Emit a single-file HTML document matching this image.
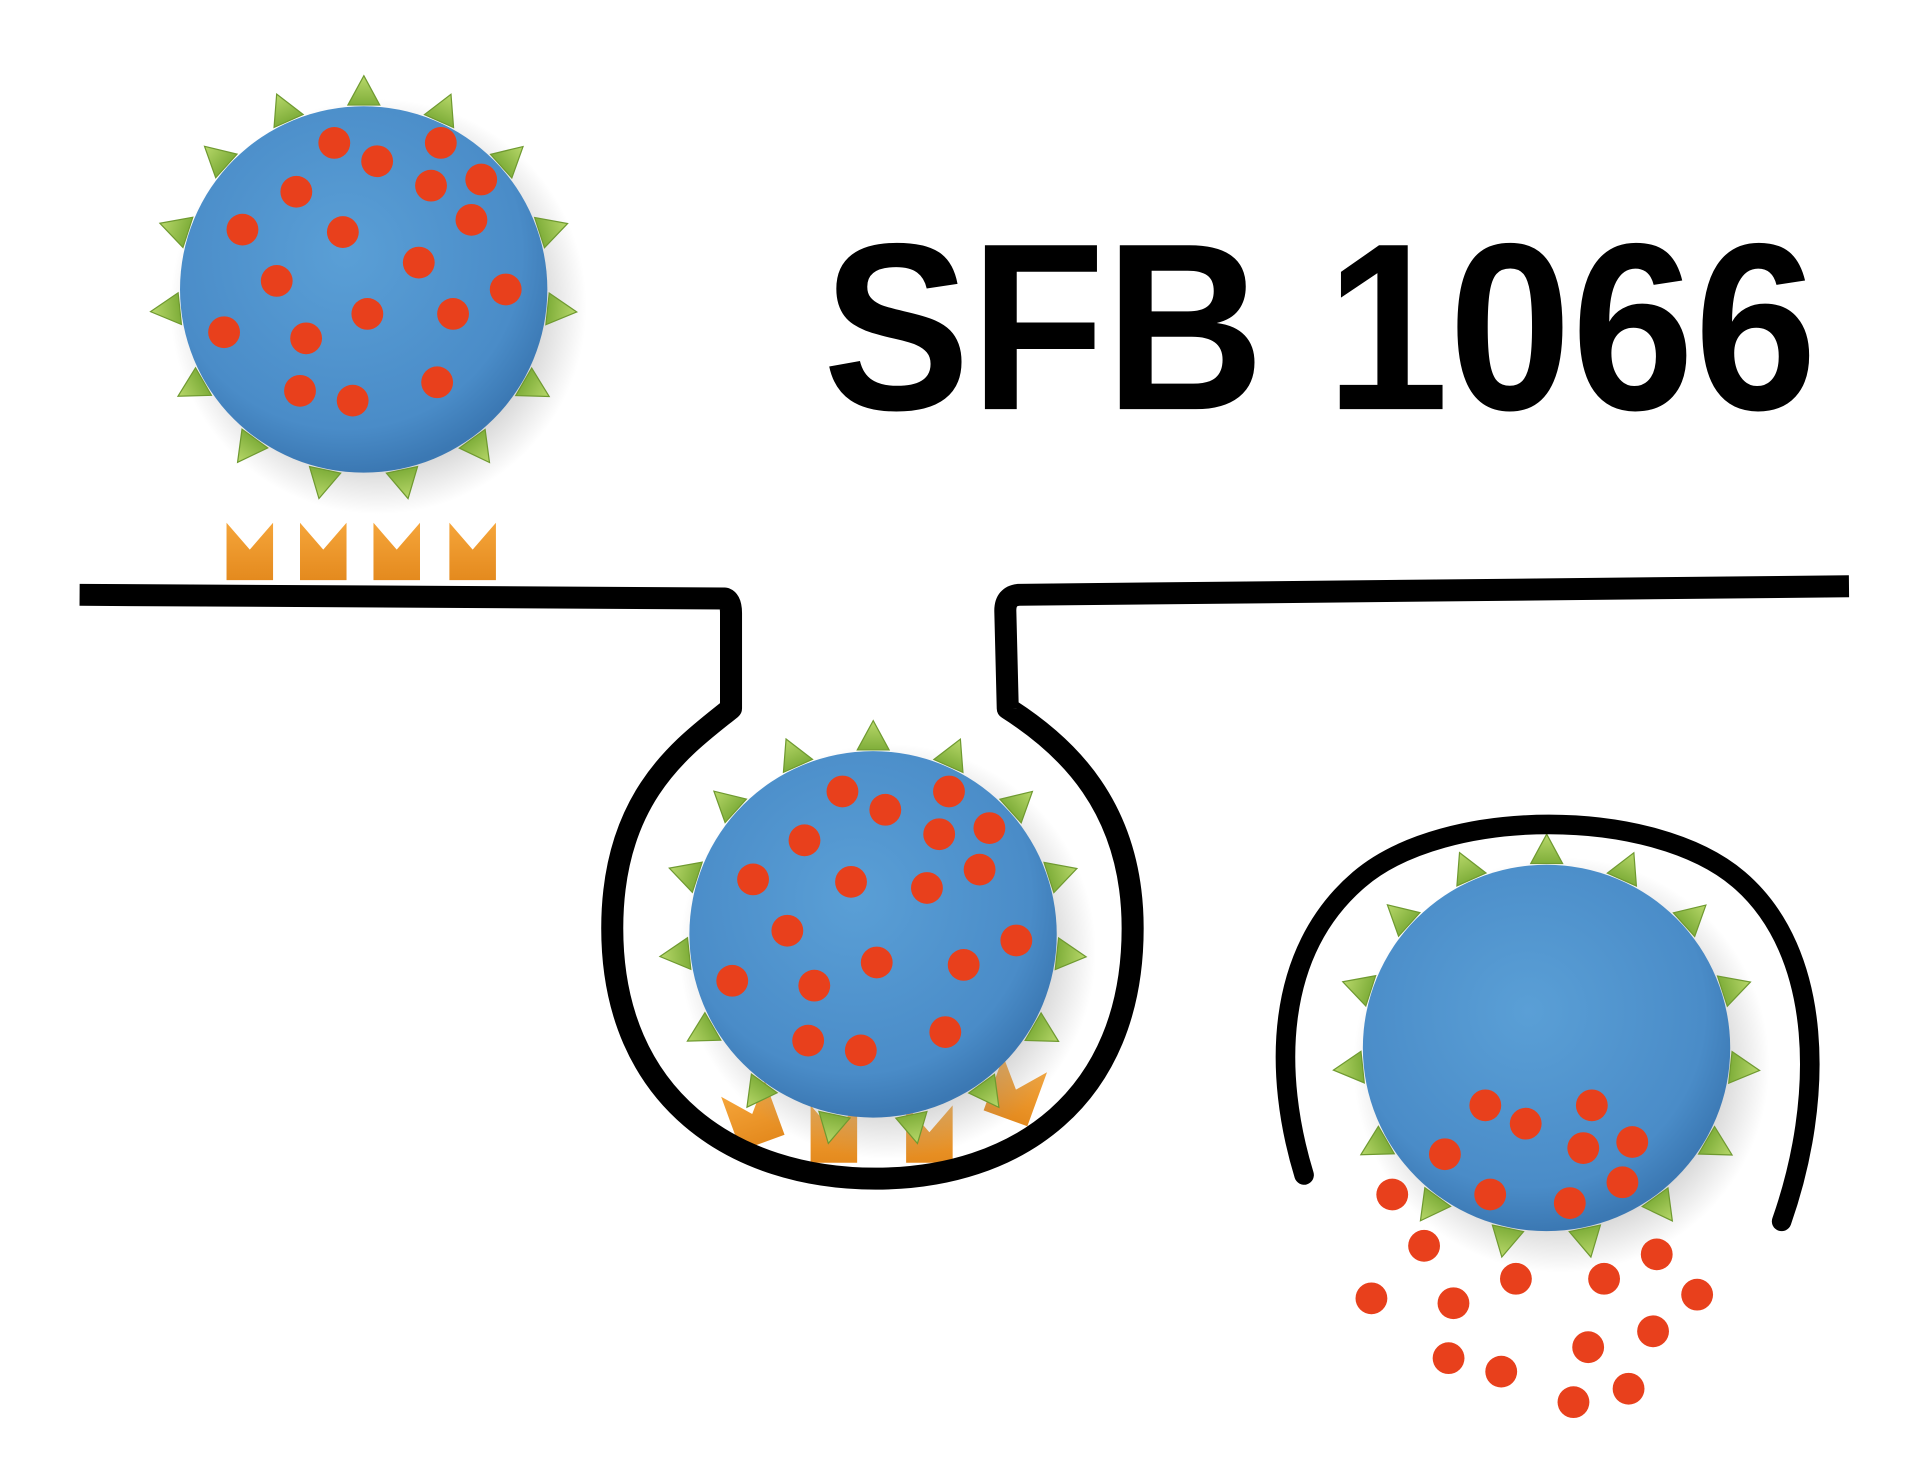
<!DOCTYPE html>
<html><head><meta charset="utf-8"><style>
html,body{margin:0;padding:0;background:#fff;}
svg{display:block;}
</style></head><body>
<svg id="s" width="1920" height="1462" viewBox="0 0 1568 1197" preserveAspectRatio="none" xmlns="http://www.w3.org/2000/svg">
<defs>
<radialGradient id="bg" cx="0.45" cy="0.4" r="0.6">
<stop offset="0" stop-color="#5a9fd6"/><stop offset="0.8" stop-color="#4a8cc8"/><stop offset="1" stop-color="#3b78b3"/>
</radialGradient>
<radialGradient id="sh" cx="0.5" cy="0.5" r="0.5">
<stop offset="0.7" stop-color="#999" stop-opacity="0.5"/><stop offset="1" stop-color="#999" stop-opacity="0"/>
</radialGradient>
<linearGradient id="gr" x1="0" y1="0" x2="0" y2="1"><stop offset="0" stop-color="#b8d86a"/><stop offset="1" stop-color="#7fae3a"/></linearGradient>
<linearGradient id="or" x1="0" y1="0" x2="0" y2="1"><stop offset="0" stop-color="#f5a53a"/><stop offset="1" stop-color="#e48a1e"/></linearGradient>
</defs>
<rect width="1568" height="1197" fill="#fff"/>
<g id="balls"></g>
<path d="M65,487 L592,490 Q597,492 597,502 L597,580 C560,610 500,650 500,760 C500,900 600,965 715,965 C830,965 925,900 925,760 C925,660 870,610 823,580 L821,500 Q821,488 832,487 L1510,480" fill="none" stroke="#000" stroke-width="18" stroke-linejoin="round"/>
<path d="M1065,962 C1040,880 1040,780 1110,720 C1180,660 1350,660 1420,720 C1490,780 1490,900 1455,1000" fill="none" stroke="#000" stroke-width="16" stroke-linecap="round"/>
<text x="672" y="335" font-family="Liberation Sans, sans-serif" font-weight="bold" font-size="195" textLength="812" lengthAdjust="spacingAndGlyphs" fill="#000">SFB 1066</text>
</svg>
<script>
var NS="http://www.w3.org/2000/svg",g=document.getElementById('balls');
function el(t,a){var e=document.createElementNS(NS,t);for(var k in a)e.setAttribute(k,a[k]);g.appendChild(e);return e;}
function M(x,y,rot){el('polygon',{points:"0,0 19,22 38,0 38,47 0,47",fill:"url(#or)",transform:"translate("+x+","+y+") rotate("+(rot||0)+",19,24)"});}
[185,245,305,367].forEach(function(x){M(x,428);});
M(596,890,-20);M(662,905,0);M(740,905,0);M(810,870,20);
function ball(cx,cy,r,n,off,dots){
 el('ellipse',{cx:cx+12,cy:cy+14,rx:r+20,ry:r+20,fill:"url(#sh)"});
 for(var i=0;i<n;i++){var a=off+i*2*Math.PI/n,R=r+10,x=cx+R*Math.cos(a),y=cy+R*Math.sin(a),d=a*180/Math.PI+90;
  el('polygon',{points:"0,-15 13,9 -13,9",fill:"url(#gr)",stroke:"#6f9a30","stroke-width":"1",transform:"translate("+x+","+y+") rotate("+d+")"});}
 el('circle',{cx:cx,cy:cy,r:r,fill:"url(#bg)"});
 dots.forEach(function(p){el('circle',{cx:p[0],cy:p[1],r:13,fill:"#e8401c"});});
}
ball(297,237,150,15,-1.57,[[273,117],[308,132],[360,117],[393,147],[352,152],[242,157],[385,180],[198,188],[280,190],[342,215],[226,230],[413,237],[300,257],[370,257],[183,272],[250,277],[245,320],[288,328],[357,313]]);
ball(713,765,150,15,-1.57,[[688,648],[723,663],[775,648],[808,678],[767,683],[657,688],[800,712],[615,720],[695,722],[757,727],[643,762],[830,770],[716,788],[787,790],[598,803],[665,807],[660,852],[703,860],[772,845]]);
ball(1263,858,150,15,-1.57,[[1213,905],[1246,920],[1300,905],[1333,935],[1293,940],[1180,945],[1325,968],[1217,978],[1282,985]]);
[[1137,978],[1163,1020],[1238,1047],[1310,1047],[1353,1027],[1120,1063],[1187,1067],[1386,1060],[1350,1090],[1297,1103],[1183,1112],[1226,1123],[1330,1137],[1285,1148]].forEach(function(p){el('circle',{cx:p[0],cy:p[1],r:13,fill:"#e8401c"});});
</script>
</body></html>
